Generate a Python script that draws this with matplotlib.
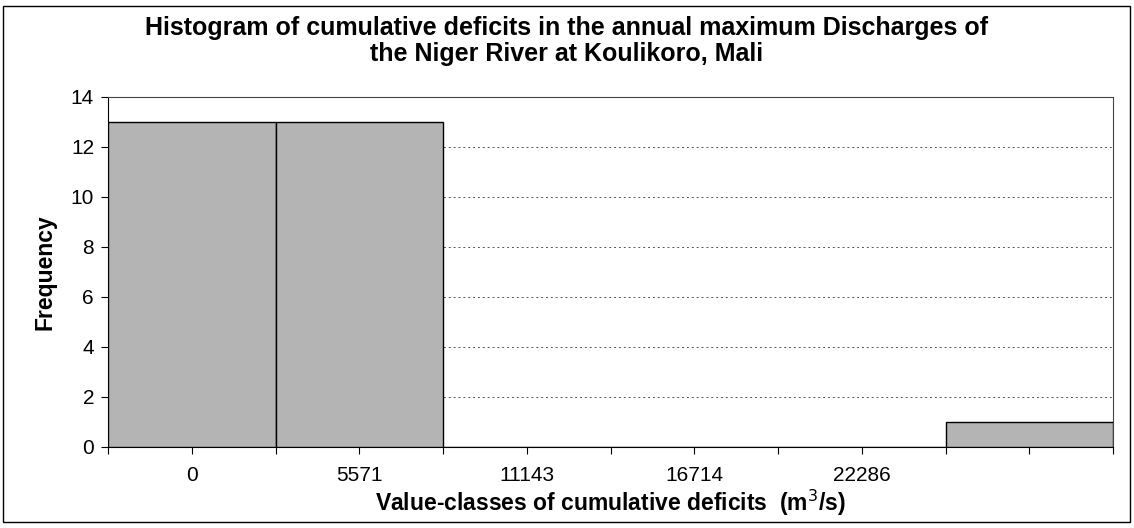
import matplotlib
matplotlib.use("Agg")
import matplotlib.pyplot as plt
from matplotlib.patches import Rectangle
import numpy as np

plt.rcParams['font.family'] = ['Liberation Sans', 'DejaVu Sans']

categories = ["0", "5571", "11143", "16714", "22286", ""]
frequency = [13, 13, 0, 0, 0, 1]
yticks = [0, 2, 4, 6, 8, 10, 12, 14]

fig = plt.figure(figsize=(11.34, 5.28), dpi=100)
ax = fig.add_axes([108/1134, 81/528, (1113-108)/1134, (447-97)/528])

x = np.arange(len(categories))
ax.bar(x, frequency, width=1.0, color='#b4b4b4', edgecolor='black', linewidth=1.0, zorder=3)

ax.set_xlim(-0.5, len(categories) - 0.5)
ax.set_ylim(0, 14)
ax.set_yticks(yticks)
ax.set_yticklabels([str(v) for v in yticks], fontsize=15)
ax.yaxis.grid(True, linestyle=(0, (2, 3)), color='#555555', linewidth=0.7, zorder=0)

# labelled ticks at category centres, extra ticks at category boundaries
ax.set_xticks(x)
ax.set_xticklabels(categories, fontsize=15)
ax.set_xticks(np.arange(-0.5, len(categories), 1.0), minor=True)
ax.tick_params(axis='x', which='both', length=5, width=0.8, direction='out', pad=9)
ax.tick_params(axis='y', length=5, width=0.8, direction='out', pad=5)

for s in ['top', 'right']:
    ax.spines[s].set_color('#444444')
    ax.spines[s].set_linewidth(0.8)
for s in ['left', 'bottom']:
    ax.spines[s].set_color('black')
    ax.spines[s].set_linewidth(0.8)

ax.set_ylabel('Frequency', fontsize=16.5, fontweight='bold', labelpad=10)
ax.set_xlabel('Value-classes of cumulative deficits  (m$^3$/s)', fontsize=16.5,
              fontweight='bold', labelpad=2)

fig.text(0.5, 1 - 41/528,
         'Histogram of cumulative deficits in the annual maximum Discharges of\n'
         'the Niger River at Koulikoro, Mali',
         ha='center', va='center', fontsize=18, fontweight='bold', linespacing=1.12)

fig.patches.append(Rectangle((3/1134, 6/528), (1130-3)/1134, (522-6)/528,
                             transform=fig.transFigure, fill=False,
                             edgecolor='black', linewidth=1.0))

fig.savefig('out.png', dpi=100)
